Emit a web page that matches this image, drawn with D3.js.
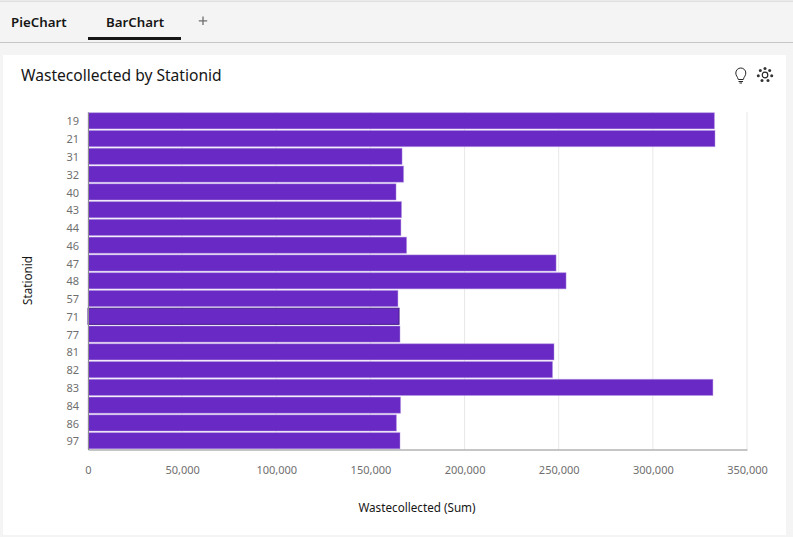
<!DOCTYPE HTML>
<html>
	<head>
		<title>BarChart</title>
		<script src="https://d3js.org/d3.v7.min.js"></script>
		<style>
			html, body { margin: 0; padding: 0; background: #f4f4f4; overflow: hidden; }
			svg { display: block; }
			text { font-family: "Noto Sans", sans-serif; }
		</style>
	</head>
	<body>
		<svg id="viz" width="793" height="537"></svg>
		<script>
			const stations = ["19","21","31","32","40","43","44","46","47","48","57","71","77","81","82","83","84","86","97"]
			const waste = [332700,333000,166800,167600,163600,166500,166200,169200,248600,253900,164600,165200,165700,247500,246700,331900,166000,163800,165700]
			const xTicks = [0,50000,100000,150000,200000,250000,300000,350000]
			const tabs = ["PieChart","BarChart"]

			const svg = d3.select("#viz")

			// tab strip
			svg.append("rect").attr("width",793).attr("height",1.5).attr("y",0.5).attr("fill","#e0e0e0")
			svg.append("rect").attr("y",42).attr("width",793).attr("height",1).attr("fill","#c6c6c6")
			svg.selectAll(".tab").data(tabs).enter().append("text")
				.attr("class","tab")
				.attr("x",(d,i) => i == 0 ? 11 : 106)
				.attr("y",27)
				.attr("font-size",13.3).attr("font-weight",600).attr("fill","#161616")
				.text(d => d)
			svg.append("rect").attr("x",88).attr("y",37).attr("width",93).attr("height",3).attr("fill","#161616")
			svg.append("path").attr("d","M203 16.5V25M198.8 20.8H207.2").attr("stroke","#6f6f6f").attr("stroke-width",1.3).attr("fill","none")

			// card
			svg.append("rect").attr("x",3).attr("y",55).attr("width",783).attr("height",480).attr("fill","#fff")
			svg.append("text").attr("x",21).attr("y",81).attr("font-size",15.6).attr("fill","#161616")
				.text("Wastecollected by Stationid")

			// bulb icon
			const icons = svg.append("g").attr("fill","none").attr("stroke","#262626").attr("stroke-width",1)
			icons.append("path").attr("d","M738.3 79.5 C737.5 76.5 735.8 75.8 735.8 73 A5 5 0 0 1 745.8 73 C745.8 75.8 744.1 76.5 743.3 79.5 Z")
			icons.append("path").attr("d","M738.5 81.5H743M739.5 83H742")

			// insights icon
			icons.append("circle").attr("cx",765).attr("cy",75).attr("r",2.8).attr("stroke-width",1.2)
			const dots = [[765,68.5],[760.3,70.5],[769.7,70.5],[758.3,75.8],[771.7,75.8],[762,80.5],[768,80.5]]
			svg.selectAll(".dot").data(dots).enter().append("circle")
				.attr("class","dot").attr("cx",d => d[0]).attr("cy",d => d[1]).attr("r",1.5).attr("fill","#333")

			// chart
			const x = d3.scaleLinear().domain([0,350000]).range([88,747])
			const y = d3.scaleBand().domain(stations).range([112,449.5]).paddingInner(0.09).paddingOuter(0.04)

			svg.selectAll(".grid").data(xTicks.slice(1)).enter().append("line")
				.attr("class","grid")
				.attr("x1",d => x(d)).attr("x2",d => x(d))
				.attr("y1",112).attr("y2",449.5)
				.attr("stroke","#e8e8e8").attr("stroke-width",1)

			svg.selectAll(".bar").data(stations).enter().append("rect")
				.attr("class","bar")
				.attr("x",x(0))
				.attr("y",d => y(d))
				.attr("width",(d,i) => x(waste[i]) - x(0))
				.attr("height",y.bandwidth())
				.attr("fill","#6929c4")
				.attr("stroke",d => d == "71" ? "#491d8b" : "#b394e3")
				.attr("stroke-opacity",d => d == "71" ? 1 : 0.45)
				.attr("stroke-width",1)

			const xAxis = d3.axisBottom(x).tickValues(xTicks).tickFormat(d3.format(",")).tickSize(0).tickPadding(17)
			const gx = svg.append("g").attr("transform","translate(0,449.5)").call(xAxis)
			gx.select(".domain").attr("stroke","#8d8d8d")
			gx.selectAll("text").attr("font-size",11).attr("fill","#6f6f6f").attr("font-family","Noto Sans")

			const yAxis = d3.axisLeft(y).tickSize(0).tickPadding(9)
			const gy = svg.append("g").attr("transform","translate(88,0)").call(yAxis)
			gy.select(".domain").attr("stroke","#8d8d8d")
			gy.selectAll("text").attr("font-size",11).attr("fill","#6f6f6f").attr("font-family","Noto Sans").attr("dy","0.42em")

			svg.append("text").attr("x",417).attr("y",512).attr("text-anchor","middle")
				.attr("font-size",11.7).attr("fill","#161616").text("Wastecollected (Sum)")
			svg.append("text").attr("transform","translate(32,280.5) rotate(-90)").attr("text-anchor","middle")
				.attr("font-size",11.7).attr("fill","#161616").text("Stationid")
		</script>
	</body>
</html>
